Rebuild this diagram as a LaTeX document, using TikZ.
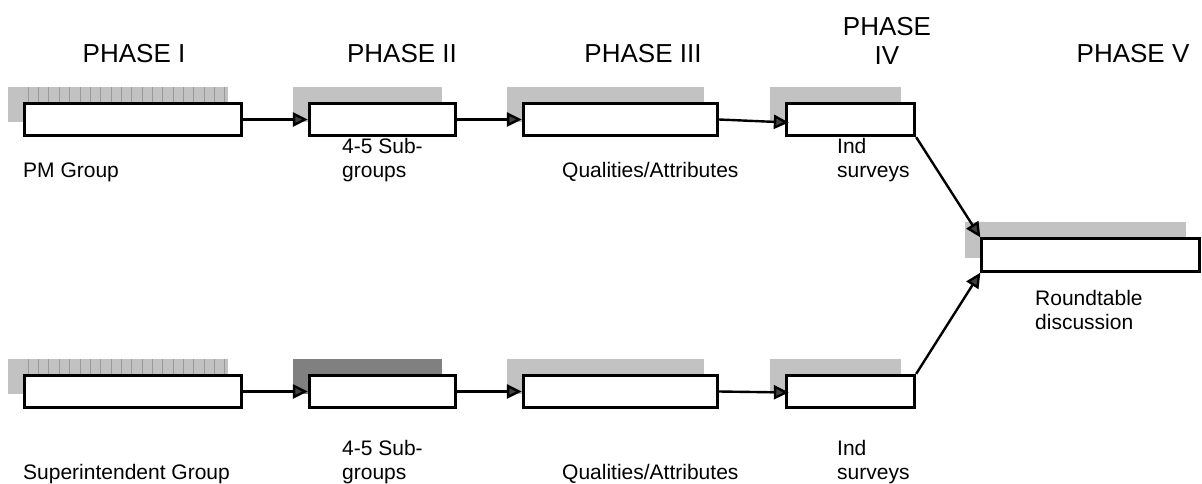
\documentclass[tikz,border=0pt]{standalone}
\usepackage{fontspec}
\setmainfont{Liberation Sans}
\usetikzlibrary{arrows.meta,calc,backgrounds}
\begin{document}
\begin{tikzpicture}[x=1pt,y=-1pt,
  box/.style={draw=black,line width=2.8pt,fill=white,inner sep=0pt,minimum height=32.5pt},
  head/.style={font=\fontsize{26}{29}\selectfont,inner sep=0pt,align=center,anchor=base},
  lab/.style={font=\fontsize{21}{24}\selectfont,inner sep=0pt,align=left,anchor=base west},
  conn/.style={line width=2.4pt,-{Triangle[length=15pt,width=14pt,fill=black!75]}},
  shlight/.style={fill=black!24},
  shdark/.style={fill=black!50},
  stripe/.style={draw=black!40,line width=0.8pt}
]
\useasboundingbox (0,0) rectangle (1202,483);

% headings
\node[head] (h1) at (134,62) {PHASE I};
\node[head] (h2) at (402,62) {PHASE II};
\node[head] (h3) at (643,62) {PHASE III};
\node[head] (h4) at (887,64) {PHASE\\IV};
\node[head] (h5) at (1133,62) {PHASE V};

% top row boxes
\node[box,minimum width=217.5pt] (b1) at (133,119.5) {};
\node[box,minimum width=146.5pt] (b2) at (382.5,119.5) {};
\node[box,minimum width=194.5pt] (b3) at (620.5,119.5) {};
\node[box,minimum width=128.5pt] (b4) at (850.5,119.5) {};
% merge box
\node[box,minimum width=217.5pt] (b5) at (1090.5,255) {};
% bottom row boxes
\node[box,minimum width=217.5pt] (c1) at (133,391.5) {};
\node[box,minimum width=146.5pt] (c2) at (382.5,391.5) {};
\node[box,minimum width=194.5pt] (c3) at (620.5,391.5) {};
\node[box,minimum width=128.5pt] (c4) at (850.5,391.5) {};

% shadows
\begin{pgfonlayer}{background}
  \foreach \b in {b2,b3,b4,b5,c3,c4}
    \fill[shlight] ($(\b.south west)+(-15,-15)$) rectangle ($(\b.north east)+(-15,-15)$);
  \fill[shdark] ($(c2.south west)+(-15,-15)$) rectangle ($(c2.north east)+(-15,-15)$);
  \foreach \b in {b1,c1}{
    \fill[shlight] ($(\b.south west)+(-15,-15)$) rectangle ($(\b.north east)+(-15,-15)$);
    \foreach \i in {0,...,19}
      \draw[stripe] ($(\b.north west)+(5.3+10.35*\i,-15)$) -- ($(\b.south west)+(5.3+10.35*\i,-15)$);
  }
\end{pgfonlayer}

% labels
\node[lab] (l1) at (23,177) {PM Group};
\node[lab] (l2) at (342,177) {4-5 Sub-\\groups};
\node[lab] (l3) at (562,177) {Qualities/Attributes};
\node[lab] (l4) at (837,177) {Ind\\surveys};
\node[lab] (l5) at (1035,329) {Roundtable\\discussion};
\node[lab] (m1) at (23,479) {Superintendent Group};
\node[lab] (m2) at (342,479) {4-5 Sub-\\groups};
\node[lab] (m3) at (562,479) {Qualities/Attributes};
\node[lab] (m4) at (837,479) {Ind\\surveys};

% connectors
\draw[conn] (b1.east) -- (b2.west);
\draw[conn] (b2.east) -- (b3.west);
\draw[conn] (b3.east) -- ($(b4.west)+(4,3)$);
\draw[conn] (b4.south east) -- (b5.north west);
\draw[conn] (c1.east) -- (c2.west);
\draw[conn] (c2.east) -- (c3.west);
\draw[conn] (c3.east) -- ($(c4.west)+(4,1)$);
\draw[conn] (c4.north east) -- (b5.south west);
\end{tikzpicture}
\end{document}
